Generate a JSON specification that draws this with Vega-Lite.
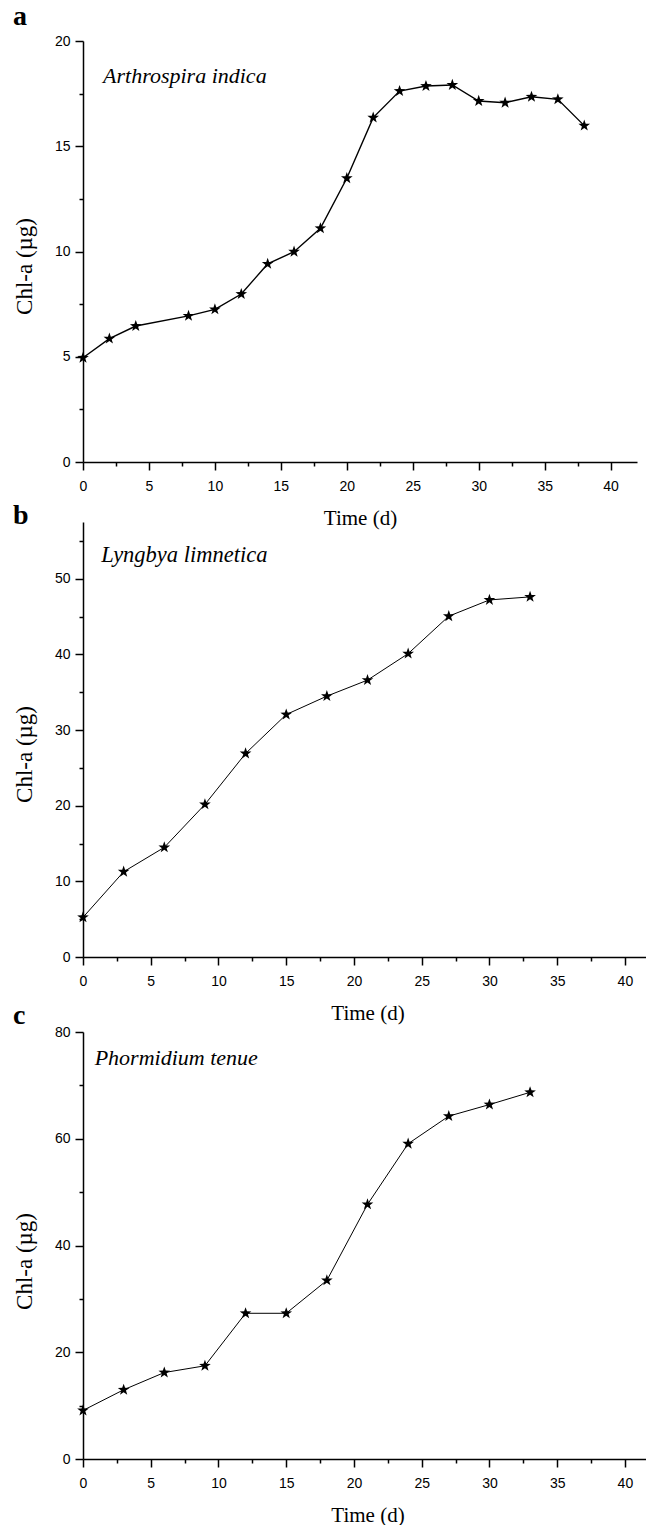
{
  "$schema": "https://vega.github.io/schema/vega-lite/v6.json",
  "background": "white",
  "padding": {"left": 13, "top": 3, "right": 0, "bottom": 0},
  "bounds": "flush",
  "spacing": 60,
  "config": {
    "view": {"stroke": null},
    "axis": {
      "grid": false,
      "domainColor": "black",
      "tickColor": "black",
      "labelColor": "black",
      "titleColor": "black",
      "domainWidth": 1.5,
      "tickWidth": 1.5,
      "labelFont": "Liberation Sans",
      "labelFontSize": 14,
      "titleFont": "Liberation Serif",
      "titleFontWeight": "normal",
      "labelFlush": false,
      "labelOverlap": false
    },
    "axisX": {"titleFontSize": 21, "tickSize": 8, "labelPadding": 9, "titlePadding": 14},
    "axisY": {"titleFontSize": 23, "tickSize": 8, "labelPadding": 5, "titlePadding": 13},
    "title": {"font": "Liberation Serif", "fontSize": 28, "fontWeight": "bold", "color": "black", "anchor": "start", "frame": "bounds"}
  },
  "datasets": {
    "a": [
      {"day": 0, "chl": 4.95}, {"day": 2, "chl": 5.86}, {"day": 4, "chl": 6.46}, {"day": 8, "chl": 6.94},
      {"day": 10, "chl": 7.25}, {"day": 12, "chl": 7.98}, {"day": 14, "chl": 9.41}, {"day": 16, "chl": 9.99},
      {"day": 18, "chl": 11.1}, {"day": 20, "chl": 13.48}, {"day": 22, "chl": 16.36}, {"day": 24, "chl": 17.62},
      {"day": 26, "chl": 17.86}, {"day": 28, "chl": 17.91}, {"day": 30, "chl": 17.15}, {"day": 32, "chl": 17.07},
      {"day": 34, "chl": 17.35}, {"day": 36, "chl": 17.23}, {"day": 38, "chl": 15.98}
    ],
    "b": [
      {"day": 0, "chl": 5.24}, {"day": 3, "chl": 11.27}, {"day": 6, "chl": 14.49}, {"day": 9, "chl": 20.17},
      {"day": 12, "chl": 26.9}, {"day": 15, "chl": 32.05}, {"day": 18, "chl": 34.48}, {"day": 21, "chl": 36.6},
      {"day": 24, "chl": 40.1}, {"day": 27, "chl": 45.05}, {"day": 30, "chl": 47.2}, {"day": 33, "chl": 47.6}
    ],
    "c": [
      {"day": 0, "chl": 9.1}, {"day": 3, "chl": 12.97}, {"day": 6, "chl": 16.2}, {"day": 9, "chl": 17.46},
      {"day": 12, "chl": 27.3}, {"day": 15, "chl": 27.3}, {"day": 18, "chl": 33.46}, {"day": 21, "chl": 47.7},
      {"day": 24, "chl": 59.07}, {"day": 27, "chl": 64.24}, {"day": 30, "chl": 66.4}, {"day": 33, "chl": 68.7}
    ]
  },
  "vconcat": [
    {
      "width": 554,
      "height": 421,
      "title": {"text": "a", "dy": 1},
      "data": {"name": "a"},
      "resolve": {"axis": {"x": "independent", "y": "independent"}},
      "layer": [
        {
          "mark": {"type": "line", "color": "black", "strokeWidth": 1.4},
          "encoding": {
            "x": {"field": "day", "type": "quantitative", "scale": {"domain": [0, 42], "nice": false, "zero": false},
                  "axis": {"orient": "bottom", "values": [0, 5, 10, 15, 20, 25, 30, 35, 40], "title": "Time (d)"}},
            "y": {"field": "chl", "type": "quantitative", "scale": {"domain": [0, 20], "nice": false},
                  "axis": {"orient": "left", "values": [0, 5, 10, 15, 20], "title": "Chl-a (µg)", "titleX": -47, "titleY": 225}}
          }
        },
        {
          "mark": {"type": "point", "shape": "M0,-1L0.235,-0.324L0.951,-0.309L0.38,0.124L0.588,0.809L0,0.4L-0.588,0.809L-0.38,0.124L-0.951,-0.309L-0.235,-0.324Z", "filled": true, "color": "black", "size": 150, "opacity": 1},
          "encoding": {
            "x": {"field": "day", "type": "quantitative",
                  "axis": {"orient": "bottom", "values": [2.5, 7.5, 12.5, 17.5, 22.5, 27.5, 32.5, 37.5], "labels": false, "domain": false, "tickSize": 4, "title": null}},
            "y": {"field": "chl", "type": "quantitative",
                  "axis": {"orient": "left", "values": [2.5, 7.5, 12.5, 17.5], "labels": false, "domain": false, "tickSize": 4, "title": null}}
          }
        },
        {
          "data": {"values": [{"species": "Arthrospira indica"}]},
          "mark": {"type": "text", "font": "Liberation Serif", "fontStyle": "italic", "fontSize": 22, "align": "left", "baseline": "alphabetic", "color": "black"},
          "encoding": {
            "x": {"datum": 1.52, "type": "quantitative", "axis": null},
            "y": {"datum": 18.0, "type": "quantitative", "axis": null},
            "text": {"field": "species"}
          }
        }
      ]
    },
    {
      "width": 569,
      "height": 435,
      "title": {"text": "b", "dy": 12},
      "data": {"name": "b"},
      "resolve": {"axis": {"x": "independent", "y": "independent"}},
      "layer": [
        {
          "mark": {"type": "line", "color": "black", "strokeWidth": 1},
          "encoding": {
            "x": {"field": "day", "type": "quantitative", "scale": {"domain": [0, 42], "nice": false, "zero": false},
                  "axis": {"orient": "bottom", "values": [0, 5, 10, 15, 20, 25, 30, 35, 40], "title": "Time (d)"}},
            "y": {"field": "chl", "type": "quantitative", "scale": {"domain": [0, 57.5], "nice": false},
                  "axis": {"orient": "left", "values": [0, 10, 20, 30, 40, 50], "title": "Chl-a (µg)", "titleX": -47, "titleY": 232}}
          }
        },
        {
          "mark": {"type": "point", "shape": "M0,-1L0.235,-0.324L0.951,-0.309L0.38,0.124L0.588,0.809L0,0.4L-0.588,0.809L-0.38,0.124L-0.951,-0.309L-0.235,-0.324Z", "filled": true, "color": "black", "size": 150, "opacity": 1},
          "encoding": {
            "x": {"field": "day", "type": "quantitative",
                  "axis": {"orient": "bottom", "values": [2.5, 7.5, 12.5, 17.5, 22.5, 27.5, 32.5, 37.5], "labels": false, "domain": false, "tickSize": 4, "title": null}},
            "y": {"field": "chl", "type": "quantitative",
                  "axis": {"orient": "left", "values": [5, 15, 25, 35, 45, 55], "labels": false, "domain": false, "tickSize": 4, "title": null}}
          }
        },
        {
          "data": {"values": [{"species": "Lyngbya limnetica"}]},
          "mark": {"type": "text", "font": "Liberation Serif", "fontStyle": "italic", "fontSize": 22.5, "align": "left", "baseline": "alphabetic", "color": "black"},
          "encoding": {
            "x": {"datum": 1.35, "type": "quantitative", "axis": null},
            "y": {"datum": 52.2, "type": "quantitative", "axis": null},
            "text": {"field": "species"}
          }
        }
      ]
    },
    {
      "width": 569,
      "height": 442,
      "title": {"text": "c", "dy": 17},
      "data": {"name": "c"},
      "resolve": {"axis": {"x": "independent", "y": "independent"}},
      "layer": [
        {
          "mark": {"type": "line", "color": "black", "strokeWidth": 1},
          "encoding": {
            "x": {"field": "day", "type": "quantitative", "scale": {"domain": [0, 42], "nice": false, "zero": false},
                  "axis": {"orient": "bottom", "values": [0, 5, 10, 15, 20, 25, 30, 35, 40], "title": "Time (d)"}},
            "y": {"field": "chl", "type": "quantitative", "scale": {"domain": [0, 80], "nice": false, "range": [442, 15]},
                  "axis": {"orient": "left", "values": [0, 20, 40, 60, 80], "title": "Chl-a (µg)", "titleX": -47, "titleY": 244}}
          }
        },
        {
          "mark": {"type": "point", "shape": "M0,-1L0.235,-0.324L0.951,-0.309L0.38,0.124L0.588,0.809L0,0.4L-0.588,0.809L-0.38,0.124L-0.951,-0.309L-0.235,-0.324Z", "filled": true, "color": "black", "size": 150, "opacity": 1},
          "encoding": {
            "x": {"field": "day", "type": "quantitative",
                  "axis": {"orient": "bottom", "values": [2.5, 7.5, 12.5, 17.5, 22.5, 27.5, 32.5, 37.5], "labels": false, "domain": false, "tickSize": 4, "title": null}},
            "y": {"field": "chl", "type": "quantitative",
                  "axis": {"orient": "left", "values": [10, 30, 50, 70], "labels": false, "domain": false, "tickSize": 4, "title": null}}
          }
        },
        {
          "data": {"values": [{"species": "Phormidium tenue"}]},
          "mark": {"type": "text", "font": "Liberation Serif", "fontStyle": "italic", "fontSize": 22, "align": "left", "baseline": "alphabetic", "color": "black"},
          "encoding": {
            "x": {"datum": 0.86, "type": "quantitative", "axis": null},
            "y": {"datum": 73.9, "type": "quantitative", "axis": null},
            "text": {"field": "species"}
          }
        }
      ]
    }
  ]
}
